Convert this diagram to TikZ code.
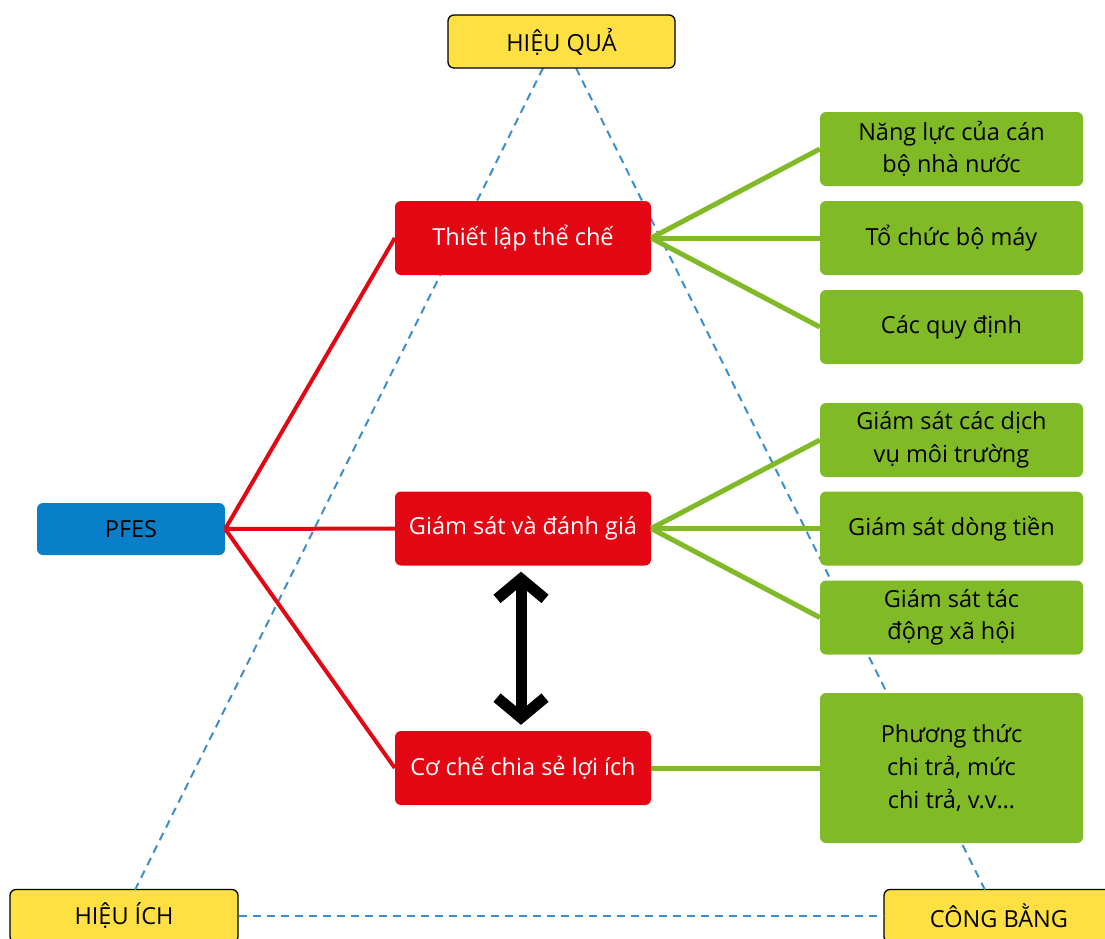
\documentclass[tikz,border=0pt]{standalone}
\usepackage{fontspec}
\setmainfont{Open Sans}
\usetikzlibrary{arrows.meta}
\definecolor{yel}{HTML}{FFE043}
\definecolor{pblue}{HTML}{0A7FC9}
\definecolor{pred}{HTML}{E30613}
\definecolor{pgreen}{HTML}{80BA27}
\definecolor{dblue}{HTML}{3A8ECF}
\tikzset{
  base/.style={rounded corners=6pt, inner sep=0pt, align=center, font=\fontsize{23.5}{32.5}\selectfont},
  yelbox/.style={base, fill=yel, draw=black, line width=1.3pt, minimum width=227pt, minimum height=53pt},
  bluebox/.style={base, fill=pblue, minimum width=188pt, minimum height=52pt},
  redbox/.style={base, fill=pred, text=white, minimum width=256pt, minimum height=74pt},
  greenbox/.style={base, fill=pgreen, minimum width=263pt, minimum height=74pt},
  dashline/.style={draw=dblue, line width=2pt, dash pattern=on 8pt off 6pt},
  redline/.style={draw=pred, line width=4pt},
  greenline/.style={draw=pgreen, line width=5pt},
  dblarrow/.style={line width=11pt, {Straight Barb[length=20pt,width=48pt,line width=11pt]}-{Straight Barb[length=20pt,width=48pt,line width=11pt]}}
}
\begin{document}
\begin{tikzpicture}[x=1pt,y=-1pt]
\useasboundingbox (0,0) rectangle (1105,938);
% corner boxes
\node[yelbox, minimum width=228pt] (hi) at (124,916) {HIỆU ÍCH};
\node[yelbox, minimum width=240pt] (cb) at (1004,916) {\hspace*{-10pt}CÔNG BẰNG};
% dashed triangle
\coordinate (hqL) at (543,68);
\coordinate (hqR) at (576,68);
\coordinate (hiT) at (135,890);
\coordinate (cbT) at (985,890);
\draw[dashline] (hqL) -- (hiT);
\draw[dashline] (hqR) -- (cbT);
\draw[dashline] (hi.east) -- (cb.west);
\node[yelbox] (hq) at (561.5,41.5) {HIỆU QUẢ};
% PFES
\node[bluebox] (pfes) at (131,529) {PFES};
% red boxes
\node[redbox] (r1) at (523,238) {Thiết lập thể chế};
\node[redbox] (r2) at (523,528.5) {Giám sát và đánh giá};
\node[redbox] (r3) at (523,768) {Cơ chế chia sẻ lợi ích};
% green boxes
\node[greenbox] (g1) at (951.5,149) {Năng lực của cán\\bộ nhà nước};
\node[greenbox] (g2) at (951.5,238) {Tổ chức bộ máy};
\node[greenbox] (g3) at (951.5,327) {Các quy định};
\node[greenbox] (g4) at (951.5,440) {Giám sát các dịch\\vụ môi trường};
\node[greenbox] (g5) at (951.5,528.5) {Giám sát dòng tiền};
\node[greenbox] (g6) at (951.5,617.5) {Giám sát tác\\động xã hội};
\node[greenbox, minimum height=150pt, font=\fontsize{23.5}{33}\selectfont] (g7) at (951.5,768) {Phương thức\\chi trả, mức\\chi trả, v.v…};
% red connectors
\draw[redline] (pfes.east) -- (r1.west);
\draw[redline] (pfes.east) -- (r2.west);
\draw[redline] (pfes.east) -- (r3.west);
% green connectors
\draw[greenline] (r1.east) -- (g1.west);
\draw[greenline] (r1.east) -- (g2.west);
\draw[greenline] (r1.east) -- (g3.west);
\draw[greenline] (r2.east) -- (g4.west);
\draw[greenline] (r2.east) -- (g5.west);
\draw[greenline] (r2.east) -- (g6.west);
\draw[greenline] (r3.east) -- (g7.west);
% double arrow
\draw[dblarrow] ([xshift=-2pt,yshift=-6pt]r2.south) -- ([xshift=-2pt,yshift=6pt]r3.north);
\end{tikzpicture}
\end{document}
